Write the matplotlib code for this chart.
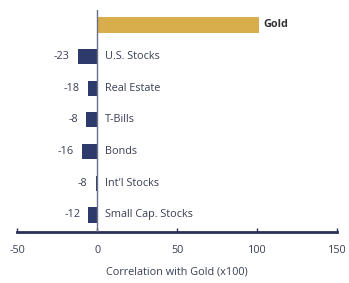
import matplotlib
matplotlib.use("Agg")
import matplotlib.pyplot as plt

categories = ["Gold", "U.S. Stocks", "Real Estate", "T-Bills", "Bonds", "Int'l Stocks", "Small Cap. Stocks"]
value_labels = ["", "-23", "-18", "-8", "-16", "-8", "-12"]
# bar lengths as drawn in the picture (correlation x100)
bar_values = [101, -12, -6, -7, -9.5, -1, -5.5]
xticks = [-50, 0, 50, 100, 150]

gold = "#D8AD4C"
navy = "#2F3A6C"
text_c = "#3a3f55"

plt.rcParams['font.family'] = ['Open Sans', 'DejaVu Sans']
fig = plt.figure(figsize=(3.49, 2.83), dpi=100)
ax = fig.add_axes([0.049, 0.180, 0.917, 0.785])

ys = list(range(len(categories)))
colors = [gold] + [navy] * (len(categories) - 1)
heights = [0.52] + [0.48] * (len(categories) - 1)
ax.barh(ys, bar_values, height=heights, color=colors, zorder=2)

ax.axvline(0, color="#6a6f8a", lw=1.0, zorder=3)

fs = 7.8
for y, cat, v, lab in zip(ys, categories, bar_values, value_labels):
    if cat == "Gold":
        ax.text(v + 3, y, cat, ha="left", va="center", fontsize=fs, fontweight="bold", color="#333333")
    else:
        ax.text(5, y, cat, ha="left", va="center", fontsize=fs, color=text_c)
        ax.text(min(v, 0) - 5, y, lab, ha="right", va="center", fontsize=fs, color=text_c)

ax.set_xlim(-50, 150)
ax.set_ylim(6.54, -0.47)
ax.set_xticks(xticks)
ax.set_xticklabels([str(t) for t in xticks], fontsize=fs, color=text_c)
ax.set_yticks([])
for s in ["top", "right", "left"]:
    ax.spines[s].set_visible(False)
ax.spines["bottom"].set_color("#2a2f55")
ax.spines["bottom"].set_linewidth(2)
ax.tick_params(axis="x", direction="in", length=3, width=1, color="#2a2f55", pad=9)
ax.set_xlabel("Correlation with Gold (x100)", fontsize=fs, color=text_c, labelpad=8)

fig.savefig("out.png", dpi=100)
